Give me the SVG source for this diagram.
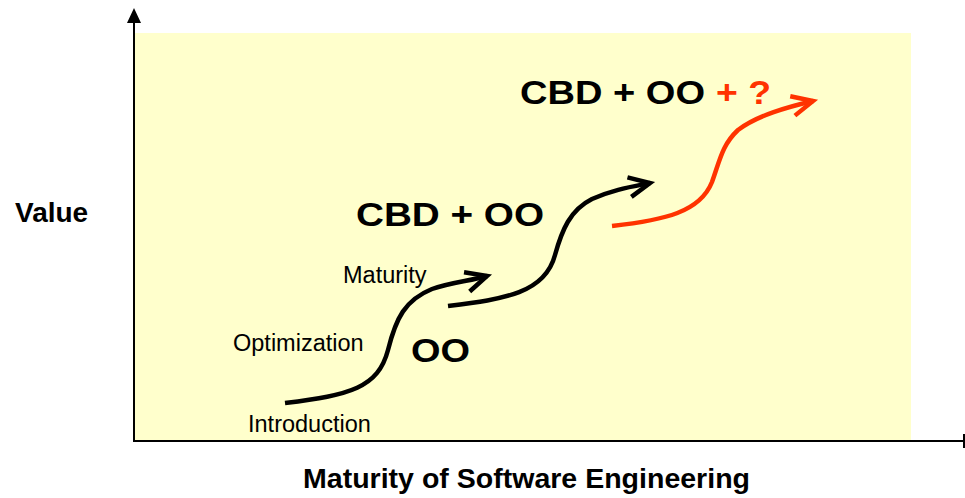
<svg xmlns="http://www.w3.org/2000/svg" width="965" height="498" viewBox="0 0 965 498">
  <style>
    .lbl { font-family: "Liberation Sans", Arial, sans-serif; fill: #000; }
    .small { font-size: 23.5px; }
    .axis-title { font-size: 28px; font-weight: bold; }
    .big { font-size: 34px; font-weight: bold; }
    .red { fill: #FF3300; }
    .axis { stroke: #000; stroke-width: 2; fill: none; }
    .curve { fill: none; stroke-width: 4.5; stroke-linecap: butt; }
  </style>
  <defs>
    <marker id="chev-black" markerUnits="userSpaceOnUse" viewBox="-30 -16 36 32" markerWidth="36" markerHeight="32" refX="0" refY="0" orient="auto">
      <path d="M-21,-10 L0,0 L-21,10" fill="none" stroke="#000" stroke-width="4.5"/>
    </marker>
    <marker id="chev-red" markerUnits="userSpaceOnUse" viewBox="-30 -16 36 32" markerWidth="36" markerHeight="32" refX="0" refY="0" orient="auto">
      <path d="M-21,-10 L0,0 L-21,10" fill="none" stroke="#FF3300" stroke-width="4.5"/>
    </marker>
  </defs>

  <!-- plot background -->
  <rect id="plot-area" x="135" y="33" width="776" height="407" fill="#FFFFCC"/>

  <!-- axes -->
  <g id="axes">
    <line class="axis" x1="134" y1="441" x2="134" y2="20"/>
    <polygon points="134,8 127,23 141,23" fill="#000"/>
    <line class="axis" x1="133" y1="441" x2="964" y2="441"/>
    <line class="axis" x1="964" y1="434" x2="964" y2="448"/>
  </g>

  <!-- growth curves -->
  <g id="connectors">
    <path id="curve-oo" class="curve" stroke="#000" marker-end="url(#chev-black)"
          d="M285,403 C350,395 378,388 388,350 C396,318 405,300 432,289 C452,282 470,281 487,276"/>
    <path id="curve-cbd" class="curve" stroke="#000" marker-end="url(#chev-black)"
          d="M448,306 C505,299 545,293 555,255 C562,230 570,210 592,199 C612,190 630,187 650,183"/>
    <path id="curve-next" class="curve" stroke="#FF3300" marker-end="url(#chev-red)"
          d="M612,226 C665,220 700,212 712,182 C720,160 722,145 738,130 C758,115 788,107 813,101"/>
  </g>

  <!-- axis titles -->
  <g id="y-title">
    <text class="lbl axis-title" x="15" y="222">Value</text>
  </g>
  <g id="x-title">
    <text class="lbl axis-title" x="303" y="488" textLength="447" lengthAdjust="spacingAndGlyphs">Maturity of Software Engineering</text>
  </g>

  <!-- stage labels -->
  <g id="stage-introduction">
    <text class="lbl small" x="248" y="432">Introduction</text>
  </g>
  <g id="stage-optimization">
    <text class="lbl small" x="233" y="351">Optimization</text>
  </g>
  <g id="stage-maturity">
    <text class="lbl small" x="343" y="283">Maturity</text>
  </g>

  <!-- era labels -->
  <g id="era-oo">
    <text class="lbl big" x="411" y="362" textLength="59" lengthAdjust="spacingAndGlyphs">OO</text>
  </g>
  <g id="era-cbd-oo">
    <text class="lbl big" x="356" y="226" textLength="188" lengthAdjust="spacingAndGlyphs">CBD + OO</text>
  </g>
  <g id="era-next">
    <text class="lbl big" x="520" y="104" textLength="185" lengthAdjust="spacingAndGlyphs">CBD + OO</text>
    <text class="lbl big red" x="716" y="104" textLength="55" lengthAdjust="spacingAndGlyphs">+ ?</text>
  </g>
</svg>
